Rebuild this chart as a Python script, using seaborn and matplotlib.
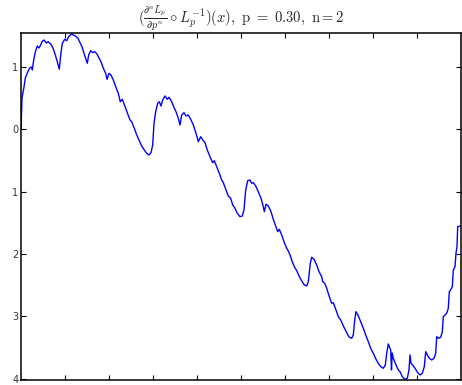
import matplotlib
matplotlib.use("Agg")
import matplotlib.pyplot as plt
import seaborn as sns
import numpy as np

x_vals = [0.0, 0.0023, 0.0068, 0.0098, 0.0143, 0.0198, 0.0234, 0.0257, 0.0289, 0.0325,
          0.0370, 0.0409, 0.0448, 0.0477, 0.0523, 0.0575, 0.0614, 0.0675, 0.0727, 0.0780,
          0.0825, 0.0870, 0.0902, 0.0939, 0.0993, 0.1039, 0.1084, 0.1143, 0.1189, 0.1234,
          0.1295, 0.1341, 0.1386, 0.1432, 0.1477, 0.1507, 0.1539, 0.1584, 0.1630, 0.1675,
          0.1727, 0.1757, 0.1818, 0.1870, 0.1925, 0.1955, 0.2000, 0.2045, 0.2098, 0.2152,
          0.2211, 0.2257, 0.2302, 0.2364, 0.2425, 0.2477, 0.2516, 0.2575, 0.2630, 0.2682,
          0.2743, 0.2802, 0.2857, 0.2909, 0.2955, 0.2993, 0.3023, 0.3061, 0.3107, 0.3143,
          0.3182, 0.3220, 0.3273, 0.3325, 0.3364, 0.3425, 0.3484, 0.3523, 0.3575, 0.3614,
          0.3652, 0.3705, 0.3750, 0.3802, 0.3857, 0.3916, 0.3977, 0.4030, 0.4084, 0.4130,
          0.4182, 0.4234, 0.4295, 0.4357, 0.4393, 0.4448, 0.4507, 0.4561, 0.4598, 0.4659,
          0.4711, 0.4766, 0.4811, 0.4864, 0.4916, 0.4977, 0.5030, 0.5068, 0.5107, 0.5152,
          0.5205, 0.5243, 0.5280, 0.5334, 0.5393, 0.5455, 0.5507, 0.5530, 0.5568, 0.5620,
          0.5682, 0.5734, 0.5789, 0.5834, 0.5870, 0.5925, 0.5984, 0.6039, 0.6075, 0.6114,
          0.6166, 0.6211, 0.6266, 0.6318, 0.6380, 0.6439, 0.6493, 0.6530, 0.6575, 0.6607,
          0.6659, 0.6720, 0.6773, 0.6834, 0.6857, 0.6902, 0.6948, 0.7007, 0.7061, 0.7098,
          0.7159, 0.7211, 0.7266, 0.7325, 0.7364, 0.7416, 0.7461, 0.7516, 0.7552, 0.7584,
          0.7614, 0.7666, 0.7720, 0.7780, 0.7834, 0.7893, 0.7948, 0.8007, 0.8068, 0.8120,
          0.8175, 0.8234, 0.8280, 0.8311, 0.8348, 0.8402, 0.8420, 0.8436, 0.8461, 0.8523,
          0.8575, 0.8614, 0.8666, 0.8727, 0.8780, 0.8818, 0.8841, 0.8864, 0.8902, 0.8955,
          0.9016, 0.9068, 0.9120, 0.9166, 0.9198, 0.9234, 0.9280, 0.9334, 0.9386, 0.9425,
          0.9448, 0.9484, 0.9539, 0.9575, 0.9598, 0.9636, 0.9675, 0.9711, 0.9734, 0.9773,
          0.9802, 0.9825, 0.9864, 0.9886, 0.9909, 0.9925, 0.9984, 1.0]

y_vals = [0.0, 0.502, 0.678, 0.822, 0.902, 0.982, 0.998, 0.950, 1.111, 1.239,
          1.335, 1.303, 1.351, 1.404, 1.431, 1.383, 1.404, 1.367, 1.303, 1.191,
          1.083, 0.962, 1.191, 1.378, 1.442, 1.420, 1.484, 1.527, 1.511, 1.495,
          1.458, 1.388, 1.324, 1.218, 1.122, 1.058, 1.191, 1.260, 1.228, 1.244,
          1.207, 1.163, 1.083, 0.978, 0.897, 0.801, 0.897, 0.870, 0.790, 0.683,
          0.577, 0.442, 0.481, 0.362, 0.245, 0.149, 0.122, 0.016, -0.091, -0.171,
          -0.268, -0.332, -0.385, -0.412, -0.375, -0.252, 0.096, 0.282, 0.417, 0.442,
          0.373, 0.470, 0.534, 0.481, 0.513, 0.442, 0.337, 0.282, 0.176, 0.069,
          0.229, 0.266, 0.213, 0.229, 0.160, 0.069, -0.064, -0.199, -0.119, -0.171,
          -0.215, -0.332, -0.439, -0.535, -0.503, -0.599, -0.705, -0.813, -0.856, -0.973,
          -1.069, -1.106, -1.213, -1.266, -1.346, -1.401, -1.389, -1.293, -0.973, -0.824,
          -0.813, -0.865, -0.856, -0.909, -1.000, -1.106, -1.240, -1.321, -1.202, -1.229,
          -1.321, -1.442, -1.550, -1.641, -1.603, -1.694, -1.817, -1.907, -1.950, -2.014,
          -2.122, -2.202, -2.266, -2.351, -2.431, -2.495, -2.511, -2.442, -2.147, -2.051,
          -2.083, -2.175, -2.282, -2.362, -2.442, -2.468, -2.548, -2.683, -2.788, -2.779,
          -2.896, -3.003, -3.056, -3.152, -3.205, -3.280, -3.333, -3.349, -3.296, -3.056,
          -2.923, -2.992, -3.083, -3.189, -3.296, -3.404, -3.510, -3.590, -3.686, -3.750,
          -3.804, -3.830, -3.777, -3.590, -3.441, -3.537, -3.857, -3.585, -3.670, -3.777,
          -3.857, -3.885, -3.965, -4.006, -3.990, -3.857, -3.617, -3.750, -3.777, -3.830,
          -3.901, -3.938, -3.910, -3.804, -3.564, -3.617, -3.670, -3.697, -3.670, -3.590,
          -3.324, -3.349, -3.333, -3.244, -3.003, -2.976, -2.949, -2.869, -2.603, -2.564,
          -2.522, -2.255, -2.202, -1.987, -1.881, -1.561, -1.550, -1.550]

y_ticks = [1, 0, -1, -2, -3, -4]
y_tick_labels = ["1", "0", "1", "2", "3", "4"]
x_ticks = [0.1, 0.2, 0.3, 0.4, 0.5, 0.6, 0.7, 0.8, 0.9]

sns.set_style("ticks")
plt.rcParams["mathtext.fontset"] = "cm"
plt.rcParams["font.family"] = ["DejaVu Sans"]

fig = plt.figure(figsize=(4.62, 3.85), dpi=100)
ax = fig.add_axes([21 / 462, 5 / 385, 440 / 462, 347 / 385])

sns.lineplot(x=x_vals, y=y_vals, ax=ax, color="#0000ff", linewidth=1.0,
             estimator=None, sort=False)

ax.set_xlim(0, 1)
ax.set_ylim(-4.018, 1.543)
ax.set_xticks(x_ticks)
ax.set_xticklabels([])
ax.set_yticks(y_ticks)
ax.set_yticklabels(y_tick_labels)
ax.tick_params(direction="in", length=3.5, width=0.8, top=True, right=True,
               labelsize=7, pad=2, colors="black", labelcolor="#333333")
for s in ax.spines.values():
    s.set_visible(True)
    s.set_color("black")
    s.set_linewidth(1.1)

ax.set_title(r"$(\frac{\partial^n L_p}{\partial p^n} \circ L_p^{-1})(x),\ \mathrm{p\ =\ 0.30,\ n{=}2}$",
             fontsize=10.5, pad=4)

fig.savefig("out.png", dpi=100)
